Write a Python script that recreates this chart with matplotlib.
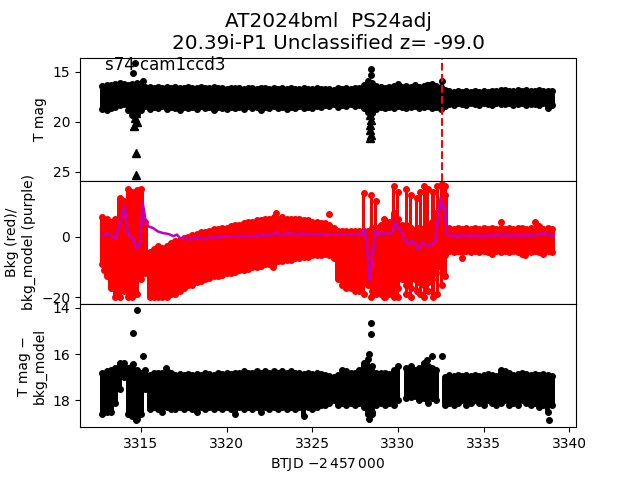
import numpy as np
import matplotlib
matplotlib.use("Agg")
import matplotlib.pyplot as plt

nan = np.nan

# time grid of the light curve samples (BTJD - 2457000), 0.25 d steps
t_grid = [3312.75, 3313.0, 3313.25, 3313.5, 3313.75, 3314.0, 3314.25, 3314.5,
          3314.75, 3315.0, 3315.25, 3315.5, 3315.75, 3316.0, 3316.25, 3316.5,
          3316.75, 3317.0, 3317.25, 3317.5, 3317.75, 3318.0, 3318.25, 3318.5,
          3318.75, 3319.0, 3319.25, 3319.5, 3319.75, 3320.0, 3320.25, 3320.5,
          3320.75, 3321.0, 3321.25, 3321.5, 3321.75, 3322.0, 3322.25, 3322.5,
          3322.75, 3323.0, 3323.25, 3323.5, 3323.75, 3324.0, 3324.25, 3324.5,
          3324.75, 3325.0, 3325.25, 3325.5, 3325.75, 3326.0, 3326.25, 3326.5,
          3326.75, 3327.0, 3327.25, 3327.5, 3327.75, 3328.0, 3328.25, 3328.5,
          3328.75, 3329.0, 3329.25, 3329.5, 3329.75, 3330.0, 3330.25, 3330.5,
          3330.75, 3331.0, 3331.25, 3331.5, 3331.75, 3332.0, 3332.25, 3332.5,
          3332.75, 3333.0, 3333.25, 3333.5, 3333.75, 3334.0, 3334.25, 3334.5,
          3334.75, 3335.0, 3335.25, 3335.5, 3335.75, 3336.0, 3336.25, 3336.5,
          3336.75, 3337.0, 3337.25, 3337.5, 3337.75, 3338.0, 3338.25, 3338.5,
          3338.75, 3339.0]

# --- panel 1: T mag (bright / faint edge of the point cloud)
tmag_lo = [16.4, 16.3, 16.3, 16.2, 16.1, 16.2, 16.3, 16.2,
           16.1, 16.3, 16.5, 16.5, 16.6, 16.5, 16.6, 16.5,
           16.6, 16.5, 16.6, 16.6, 16.5, 16.6, 16.6, 16.5,
           16.6, 16.6, 16.5, 16.6, 16.6, 16.7, 16.6, 16.6,
           16.6, 16.7, 16.6, 16.6, 16.7, 16.6, 16.6, 16.7,
           16.6, 16.7, 16.6, 16.7, 16.6, 16.7, 16.7, 16.6,
           16.7, 16.7, 16.6, 16.7, 16.7, 16.7, 16.8, 16.6,
           16.7, 16.6, 16.7, 16.6, 16.6, 16.3, 15.9, 16.1,
           16.4, 16.5, 16.6, 16.5, 16.4, 16.2, 16.5, 16.4,
           16.5, 16.3, 16.5, 16.4, 16.3, 16.5, 16.4, 16.5,
           16.8, 16.9, 17.0, 16.9, 17.0, 16.9, 17.0, 16.9,
           17.0, 16.9, 17.0, 16.9, 16.9, 16.8, 16.8, 16.9,
           16.9, 16.8, 16.9, 16.8, 16.9, 16.9, 16.8, 16.9,
           16.9, 16.9]
tmag_hi = [18.7, 18.8, 18.6, 18.5, 18.3, 18.2, 18.8, 19.3,
           19.2, 18.8, 18.4, 18.7, 18.5, 18.6, 18.4, 18.7,
           18.5, 18.6, 18.8, 18.5, 18.6, 18.5, 18.7, 18.4,
           18.6, 18.5, 18.8, 18.5, 18.6, 18.7, 18.5, 18.6,
           18.5, 18.7, 18.4, 18.6, 18.5, 18.8, 18.5, 18.6,
           18.4, 18.6, 18.5, 18.7, 18.5, 18.6, 18.4, 18.6,
           18.5, 18.6, 18.4, 18.5, 18.3, 18.4, 18.2, 18.5,
           18.3, 18.4, 18.2, 18.4, 18.3, 18.6, 19.0, 19.1,
           18.7, 18.5, 18.6, 18.5, 18.6, 18.4, 18.5, 18.6,
           18.5, 18.4, 18.6, 18.5, 18.4, 18.6, 18.5, 18.7,
           18.4, 18.2, 18.3, 18.1, 18.2, 18.3, 18.1, 18.2,
           18.3, 18.1, 18.2, 18.3, 18.1, 18.2, 18.2, 18.1,
           18.3, 18.2, 18.1, 18.3, 18.2, 18.2, 18.3, 18.1,
           18.6, 18.3]
tmag_out_t = [3314.65, 3314.55, 3315.1, 3328.43, 3328.43, 3328.35, 3332.56, 3331.7, 3332.0]
tmag_out_y = [14.1, 15.1, 15.9, 14.7, 15.3, 16.1, 15.9, 16.3, 16.2]
# upper limits (triangles)
lim_t = [3314.7, 3314.7, 3314.6, 3314.75, 3314.65, 3314.7,
         3328.35, 3328.45, 3328.4, 3328.35, 3328.45, 3328.4]
lim_y = [25.3, 23.1, 20.4, 20.0, 19.6, 19.1,
         21.6, 21.3, 20.8, 20.3, 19.8, 19.3]
t_event = 3332.55

# --- panel 2: background (red) and background model (purple)
bkg_lo = [-9, -13, -17, -20, -20, -18, -20, -20,
          -19, -14, -12, -20, -20, -20, -20, -20,
          -19, -19, -18, -17, -16, -16, -15, -14.5,
          -14, -13.5, -13, -13, -12.5, -12, -12, -11.5,
          -11, -11, -10.5, -10, -10, -9.5, -9, -9,
          -8.5, -8, -8, -7.5, -7.5, -7, -7, -6.5,
          -6.5, -6, -6, -6, -5.5, -6, -7, -14,
          -16, -17, -17, -18, -18, -14, -16, -18,
          -19, -19, -20, -19, -18, -17, -14, -16,
          -17, -14, -15, -16, -15, -14, -12, -10,
          -6, -4.5, -5, -4.5, -5, -4.5, -5, -4.5,
          -5, -4.5, -5, -5.5, -4.5, -5, -4.5, -5,
          -4.5, -5, -5.5, -4.5, -5, -4.5, -5, -5.5,
          -4.5, -5]
bkg_hi = [6.5, 6, 5, 6, 13, 12, 16, 15,
          15.5, 16, 5, -5, -4, -3, -3.5, -3,
          -2, -1.5, -1, -0.5, 0, 0.5, 1, 1.5,
          1.5, 2, 2.5, 2.5, 3, 3, 3.5, 4,
          4, 4.5, 5, 5, 5.5, 5.5, 6, 6,
          6.5, 6, 6.5, 6, 6, 6, 6, 5.5,
          5.5, 5, 5, 4.5, 4.5, 4, 3, 2,
          2, 2, 2, 2, 2, 2, 2, 3,
          3, 4, 5, 5, 8, 6, 4, 4,
          3, 2, 3, 3, 4, 5, 8, 12,
          14, 3, 2.5, 3, 2.5, 3, 2.5, 3,
          2.5, 3, 2.5, 3, 2.5, 3, 2.5, 3,
          2.5, 3, 3, 2.5, 3, 3, 3.5, 2.5,
          3, 2.5]
# sparse columns of scattered background points
spike_t = [3328.0, 3328.45, 3328.7, 3329.2, 3329.75, 3330.0, 3330.5, 3330.75,
           3331.1, 3331.3, 3331.55, 3331.75, 3332.05, 3332.3, 3332.55, 3332.75]
spike_lo = [-19, -20, -18, -20, -20, -20, -19, -20, -18, -19, -20, -18, -20, -19, -16, -13]
spike_hi = [14.5, 14, 12, 6, 17, 15, 16, 14, 13, 15, 17, 16, 15, 17, 17.5, 17]
bkg_out_t = [3312.85, 3322.9, 3322.7, 3326.0, 3333.75, 3336.0, 3338.0, 3337.4]
bkg_out_y = [-11, 8, -10, 7.7, -7, 4.9, 4.9, -6]

model_t = [3312.75, 3313.0, 3313.25, 3313.5, 3313.75, 3314.05, 3314.25, 3314.5,
           3314.75, 3314.95, 3315.1, 3315.3, 3315.45, 3315.7, 3316.0, 3316.3,
           3316.6, 3316.9, 3317.1, 3317.3, 3317.6, 3317.9, 3318.2, 3318.5,
           3318.8, 3319.1, 3319.5, 3320.0, 3320.5, 3321.0, 3321.5, 3322.0,
           3322.5, 3322.8, 3323.2, 3323.6, 3324.0, 3324.5, 3325.0, 3325.5,
           3326.0, 3326.5, 3327.0, 3327.5, 3327.9, 3328.05, 3328.2, 3328.35,
           3328.5, 3328.7, 3328.9, 3329.2, 3329.5, 3329.7, 3329.85, 3330.0,
           3330.2, 3330.4, 3330.6, 3330.8, 3331.0, 3331.2, 3331.4, 3331.6,
           3331.8, 3332.0, 3332.2, 3332.35, 3332.5, 3332.6, 3332.75, 3332.85,
           3333.2, 3334.0, 3335.0, 3336.0, 3337.0, 3338.0, 3338.5, 3339.1]
model_y = [0.3, 1.2, 0.6, -0.5, 4, 10.4, 0.2, 0.0,
           -4, -2, 11.5, 4.5, 3.5, 3.0, 1.8, 1.3,
           1.0, 0.3, 0.8, -0.5, -0.3, -0.8, -0.2, -0.3,
           -0.8, 0.1, -0.2, 0.3, 0.1, 0.4, 0.2, 0.6,
           0.5, 1.3, 0.8, 1.2, 1.0, 1.1, 0.9, 1.0,
           0.8, 0.9, 0.8, 0.9, 1.1, 2.7, -3, -14.5,
           -8, 2.5, 1.0, 1.2, 1.0, 1.6, 5.0, 3.2,
           2.2, -1.0, -2.5, -1.2, -2.0, -4.2, -1.8, -2.2,
           -3.0, -2.5, -1.0, 6.5, 13.2, 9.8, 10, 1.0,
           0.4, 0.5, 0.4, 0.6, 0.5, 0.6, 1.3, 0.4]

# --- panel 3: T mag - bkg_model
diff_lo = [16.8, 16.75, 16.7, 16.6, 16.4, 16.4, 16.6, 16.5,
           16.7, 16.8, 16.7, 16.9, 16.8, 16.8, 16.8, 16.75,
           16.8, 16.9, 16.85, 16.9, 16.85, 16.9, 16.85, 16.9,
           16.8, 16.85, 16.9, 16.8, 16.85, 16.8, 16.85, 16.8,
           16.8, 16.75, 16.8, 16.8, 16.75, 16.8, 16.75, 16.8,
           16.75, 16.8, 16.75, 16.8, 16.75, 16.8, 16.8, 16.85,
           16.8, 16.85, 16.8, 16.85, 16.9, 16.95, 17.0, 16.9,
           16.7, 16.75, 16.8, 16.8, 16.7, 16.4, 16.2, 16.5,
           16.8, 16.8, 16.8, 16.85, 16.7, 16.5, nan, 16.6,
           16.5, 16.7, 16.6, 16.4, 16.5, 16.6, 16.7, nan,
           17.0, 16.9, 16.95, 16.9, 16.95, 16.9, 16.95, 16.9,
           16.95, 16.9, 16.85, 16.9, 16.95, 16.7, 16.75, 16.8,
           16.9, 16.85, 16.8, 16.85, 16.9, 16.85, 16.9, 16.85,
           16.9, 16.95]
diff_hi = [18.6, 18.5, 18.5, 18.1, 17.5, 17.0, 18.6, 18.7,
           18.8, 18.6, 17.5, 18.4, 18.3, 18.4, 18.5, 18.3,
           18.4, 18.4, 18.3, 18.4, 18.3, 18.4, 18.5, 18.3,
           18.4, 18.3, 18.4, 18.3, 18.4, 18.3, 18.4, 18.6,
           18.3, 18.4, 18.3, 18.4, 18.3, 18.5, 18.3, 18.4,
           18.3, 18.4, 18.3, 18.4, 18.3, 18.4, 18.3, 18.7,
           18.3, 18.4, 18.3, 18.2, 18.2, 18.1, 18.0, 18.2,
           18.1, 18.2, 18.1, 18.2, 18.1, 18.3, 18.6, 18.5,
           18.2, 18.1, 18.2, 18.1, 18.2, 18.0, nan, 17.9,
           17.85, 17.8, 18.0, 17.9, 18.1, 17.9, 18.0, nan,
           18.2, 18.1, 18.2, 18.1, 18.0, 18.2, 18.1, 18.0,
           18.1, 18.2, 18.0, 18.1, 18.2, 18.1, 18.0, 18.2,
           18.1, 18.2, 18.0, 18.1, 18.2, 18.1, 18.3, 18.2,
           18.5, 18.2]
diff_out_t = [3314.75, 3314.55, 3315.1, 3314.55, 3314.7, 3316.45,
              3328.43, 3328.43, 3328.3, 3328.3, 3328.5, 3331.7, 3332.0, 3332.56, 3338.8]
diff_out_y = [14.1, 15.1, 16.07, 16.45, 18.85, 16.6,
              14.65, 15.13, 16.0, 18.83, 18.6, 16.25, 16.1, 16.07, 18.85]


def cloud(ax, t, lo, hi, color, width=0.3, ms=4):
    # dense point cloud drawn as its vertical extent at each time
    lo = np.array(lo, dtype=float)
    hi = np.array(hi, dtype=float)
    ax.bar(t, hi - lo, bottom=lo, width=width, color=color, linewidth=0)
    ax.plot(t, lo, 'o', color=color, ms=ms)
    ax.plot(t, hi, 'o', color=color, ms=ms)


fig, axes = plt.subplots(3, 1, sharex=True, figsize=(6.4, 4.8), dpi=100)
fig.subplots_adjust(hspace=0)
ax1, ax2, ax3 = axes

cloud(ax1, t_grid, tmag_lo, tmag_hi, 'k')
ax1.plot(tmag_out_t, tmag_out_y, 'o', color='k', ms=4)
ax1.plot(lim_t, lim_y, '^', color='k', ms=6)
ax1.axvline(t_event, color='red', ls='--', lw=1.5)
ax1.set_ylim(25.9, 13.6)
ax1.set_yticks([15, 20, 25])
ax1.set_ylabel("T mag")
ax1.text(0.05, 0.9, "s74 cam1ccd3", transform=ax1.transAxes, fontsize=12)
ax1.set_title("AT2024bml  PS24adj\n20.39i-P1 Unclassified z= -99.0", fontsize=14.4)

cloud(ax2, t_grid, bkg_lo, bkg_hi, 'red')
cloud(ax2, spike_t, spike_lo, spike_hi, 'red', width=0.18, ms=4)
ax2.plot(bkg_out_t, bkg_out_y, 'o', color='red', ms=4)
ax2.plot(model_t, model_y, '-', color='m', lw=1.8)
ax2.set_ylim(-22.3, 18.7)
ax2.set_yticks([-20, 0])
ax2.set_ylabel("Bkg (red)/\nbkg_model (purple)")

cloud(ax3, t_grid, diff_lo, diff_hi, 'k')
ax3.plot(diff_out_t, diff_out_y, 'o', color='k', ms=4)
ax3.set_ylim(19.17, 13.83)
ax3.set_yticks([14, 16, 18])
ax3.set_ylabel("T mag \u2212\nbkg_model")

ax3.set_xlim(3311.44, 3340.4)
ax3.set_xticks([3315, 3320, 3325, 3330, 3335, 3340])
ax3.set_xlabel(r"BTJD $-2\,457\,000$")

plt.savefig("out.png")
